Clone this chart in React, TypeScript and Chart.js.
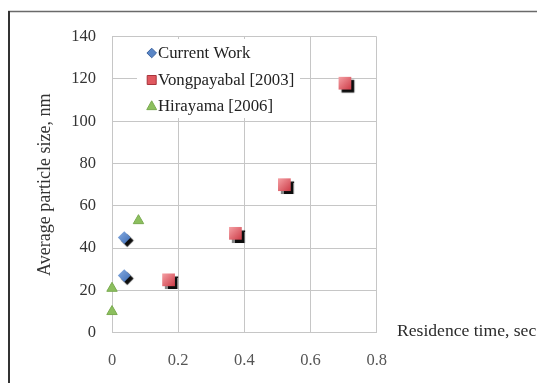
import React, { useEffect, useRef } from "react";
import { Chart, registerables } from "chart.js";

Chart.register(...registerables);

// ---- data ----
const seriesNames = ["Current Work", "Vongpayabal [2003]", "Hirayama [2006]"];
const currentX = [0.037, 0.037];
const currentY = [45, 27];
const vongX = [0.171, 0.373, 0.521, 0.704];
const vongY = [25, 47, 70, 118];
const hiraX = [0.0, 0.0, 0.08];
const hiraY = [10, 21, 53];
const xTicks = [0, 0.2, 0.4, 0.6, 0.8];
const yTicks = [0, 20, 40, 60, 80, 100, 120, 140];
const xTitle = "Residence time, sec";
const yTitle = "Average particle size, nm";

const FONT = '"Liberation Serif", "Times New Roman", serif';
const W = 529;
const H = 375;

const gradFill = (light: string, dark: string, r: number) => (c: any) => {
  const chart = c.chart;
  if (c.type !== "data" || !chart.scales || !chart.scales.x || !c.parsed) return dark;
  const x = chart.scales.x.getPixelForValue(c.parsed.x);
  const y = chart.scales.y.getPixelForValue(c.parsed.y);
  if (!isFinite(x) || !isFinite(y)) return dark;
  const g = chart.ctx.createLinearGradient(x - r, y - r, x + r, y + r);
  g.addColorStop(0, light);
  g.addColorStop(1, dark);
  return g;
};

const drawMarker = (ctx: CanvasRenderingContext2D, style: string, x: number, y: number, r: number, fill: string, stroke: string) => {
  ctx.beginPath();
  if (style === "rectRot") {
    ctx.moveTo(x - r, y);
    ctx.lineTo(x, y - r);
    ctx.lineTo(x + r, y);
    ctx.lineTo(x, y + r);
    ctx.closePath();
  } else if (style === "rect") {
    ctx.rect(x - r, y - r, 2 * r, 2 * r);
  } else {
    ctx.moveTo(x, y - r);
    ctx.lineTo(x + r * 0.95, y + r * 0.7);
    ctx.lineTo(x - r * 0.95, y + r * 0.7);
    ctx.closePath();
  }
  ctx.fillStyle = fill;
  ctx.fill();
  ctx.lineWidth = 1;
  ctx.strokeStyle = stroke;
  ctx.stroke();
};

const decorPlugin = {
  id: "decor",
  beforeDraw(chart: any) {
    const ctx = chart.ctx;
    ctx.save();
    ctx.fillStyle = "#ffffff";
    ctx.fillRect(0, 0, chart.width, chart.height);
    ctx.strokeStyle = "#6a6a6a";
    ctx.lineWidth = 1.5;
    ctx.beginPath();
    ctx.moveTo(0, 3.5);
    ctx.lineTo(chart.width, 3.5);
    ctx.stroke();
    ctx.strokeStyle = "#333333";
    ctx.lineWidth = 2;
    ctx.beginPath();
    ctx.moveTo(1, 3);
    ctx.lineTo(1, chart.height);
    ctx.stroke();
    ctx.restore();
  },
  beforeDatasetDraw(chart: any, args: any) {
    const ctx = chart.ctx;
    ctx.save();
    if (args.index < 2) {
      ctx.shadowColor = "rgba(0,0,0,0.95)";
      ctx.shadowOffsetX = 3;
      ctx.shadowOffsetY = 3;
      ctx.shadowBlur = 1;
    }
  },
  afterDatasetDraw(chart: any) {
    chart.ctx.restore();
  },
  afterDraw(chart: any) {
    const ctx = chart.ctx;
    ctx.save();
    // legend box
    ctx.fillStyle = "#ffffff";
    ctx.fillRect(129, 31, 163, 79);
    const items = [
      { style: "rectRot", r: 4.8, fill: "#5a86c6", stroke: "#3d64a0" },
      { style: "rect", r: 4.5, fill: "#e0585f", stroke: "#a8343c" },
      { style: "tri", r: 5.2, fill: "#8cbf5e", stroke: "#7aab50" },
    ];
    const ys = [45, 72, 98];
    ctx.font = `16.8px ${FONT}`;
    ctx.textBaseline = "middle";
    ctx.textAlign = "left";
    items.forEach((it, i) => {
      drawMarker(ctx, it.style, 143.7, ys[i], it.r, it.fill, it.stroke);
      ctx.fillStyle = "#222222";
      ctx.fillText(seriesNames[i], 150, ys[i] + 1);
    });
    // x axis title, to the right of the plot
    ctx.font = `17.6px ${FONT}`;
    ctx.fillStyle = "#2a2a2a";
    ctx.textBaseline = "middle";
    ctx.fillText(xTitle, 389, 323);
    ctx.restore();
  },
};

export default function App() {
  const ref = useRef<HTMLCanvasElement | null>(null);

  useEffect(() => {
    if (!ref.current) return;
    const chart = new Chart(ref.current, {
      type: "scatter",
      data: {
        datasets: [
          {
            label: seriesNames[0],
            data: currentX.map((x, i) => ({ x, y: currentY[i] })),
            pointStyle: "rectRot",
            pointRadius: 6.4,
            pointHoverRadius: 6.4,
            backgroundColor: gradFill("#86acE2", "#3f6db5", 6),
            borderWidth: 0,
            clip: false,
          } as any,
          {
            label: seriesNames[1],
            data: vongX.map((x, i) => ({ x, y: vongY[i] })),
            pointStyle: "rect",
            pointRadius: 9,
            pointHoverRadius: 9,
            backgroundColor: gradFill("#f6a2a6", "#cc3a46", 6.5),
            borderWidth: 0,
            clip: false,
          } as any,
          {
            label: seriesNames[2],
            data: hiraX.map((x, i) => ({ x, y: hiraY[i] })),
            pointStyle: "triangle",
            pointRadius: 6,
            pointHoverRadius: 6,
            backgroundColor: "#8cbf5e",
            borderColor: "#7aab50",
            borderWidth: 1,
            clip: false,
          } as any,
        ],
      },
      options: {
        responsive: false,
        animation: false,
        layout: { padding: { left: 0, top: 28.7, right: 160.3, bottom: 0 } },
        plugins: {
          legend: { display: false },
          tooltip: { enabled: false },
        },
        scales: {
          x: {
            type: "linear",
            min: 0,
            max: 0.8,
            afterBuildTicks: (s: any) => {
              s.ticks = xTicks.map((v) => ({ value: v }));
            },
            afterFit: (s: any) => {
              s.height = H - 324.7;
            },
            ticks: {
              padding: 18,
              color: "#555555",
              font: { family: FONT, size: 16.5 },
              maxRotation: 0,
            },
            grid: { color: "#c6c6c6", drawTicks: false, lineWidth: 1 },
            border: { color: "#c6c6c6" },
          },
          y: {
            type: "linear",
            min: 0,
            max: 140,
            afterBuildTicks: (s: any) => {
              s.ticks = yTicks.map((v) => ({ value: v }));
            },
            afterFit: (s: any) => {
              s.width = 104;
            },
            ticks: {
              padding: 16,
              color: "#333333",
              font: { family: FONT, size: 16.5 },
            },
            grid: { color: "#c6c6c6", drawTicks: false, lineWidth: 1 },
            border: { color: "#c6c6c6" },
            title: {
              display: true,
              text: yTitle,
              color: "#333333",
              font: { family: FONT, size: 18 },
              padding: { top: 26.2, bottom: 0 },
            },
          },
        },
      } as any,
      plugins: [decorPlugin],
    });
    return () => chart.destroy();
  }, []);

  return (
    <div style={{ position: "absolute", left: 8, top: 8, width: W, height: H, overflow: "hidden" }}>
      <canvas ref={ref} width={W} height={H} style={{ display: "block", width: W, height: H }} />
    </div>
  );
}
